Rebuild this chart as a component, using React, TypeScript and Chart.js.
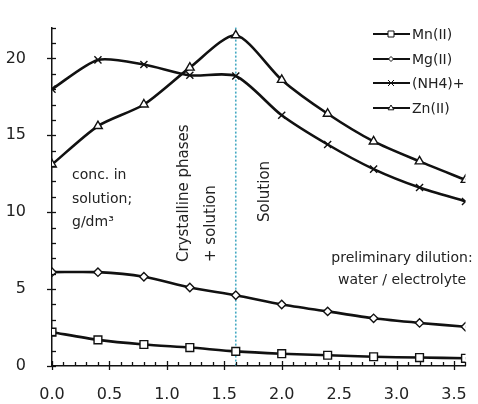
import React, { useEffect, useRef } from "react";
import { Chart, registerables } from "chart.js";

Chart.register(...registerables);

const X_VALUES = [0, 0.4, 0.8, 1.2, 1.6, 2.0, 2.4, 2.8, 3.2, 3.6];
const MN = [2.2, 1.7, 1.4, 1.2, 0.95, 0.8, 0.7, 0.6, 0.55, 0.5];
const MG = [6.1, 6.1, 5.8, 5.1, 4.6, 4.0, 3.55, 3.1, 2.8, 2.55];
const NH4 = [18.0, 19.9, 19.6, 18.9, 18.85, 16.3, 14.4, 12.8, 11.6, 10.7];
const ZN = [13.1, 15.6, 17.0, 19.4, 21.5, 18.6, 16.4, 14.6, 13.3, 12.1];

const SERIES_NAMES = ["Mn(II)", "Mg(II)", "(NH4)+", "Zn(II)"];
const X_TICKS = [0, 0.5, 1.0, 1.5, 2.0, 2.5, 3.0, 3.5];
const Y_TICKS = [0, 5, 10, 15, 20];
const X_MIN = 0, X_MAX = 3.6, X_MINOR = 0.1;
const Y_MIN = 0, Y_MAX = 22, Y_MINOR = 1;
const BOUNDARY_X = 1.6;

const FONT = "'DejaVu Sans', sans-serif";
const TEXT = "#222";

function drawMarker(ctx: CanvasRenderingContext2D, style: string, x: number, y: number, r: number) {
  ctx.beginPath();
  if (style === "rect") {
    ctx.rect(x - r, y - r, 2 * r, 2 * r);
    ctx.fill();
    ctx.stroke();
  } else if (style === "rectRot") {
    ctx.moveTo(x, y - r);
    ctx.lineTo(x + r, y);
    ctx.lineTo(x, y + r);
    ctx.lineTo(x - r, y);
    ctx.closePath();
    ctx.fill();
    ctx.stroke();
  } else if (style === "crossRot") {
    ctx.moveTo(x - r, y - r);
    ctx.lineTo(x + r, y + r);
    ctx.moveTo(x + r, y - r);
    ctx.lineTo(x - r, y + r);
    ctx.stroke();
  } else {
    ctx.moveTo(x, y - r);
    ctx.lineTo(x + r * 0.95, y + r * 0.6);
    ctx.lineTo(x - r * 0.95, y + r * 0.6);
    ctx.closePath();
    ctx.fill();
    ctx.stroke();
  }
}

const decorPlugin = {
  id: "decor",
  beforeDatasetsDraw(chart: any) {
    const { ctx, chartArea, scales } = chart;
    const x = scales.x.getPixelForValue(BOUNDARY_X);
    ctx.save();
    ctx.strokeStyle = "#45a9c2";
    ctx.lineWidth = 1.6;
    ctx.setLineDash([2, 2]);
    ctx.beginPath();
    ctx.moveTo(x, chartArea.top);
    ctx.lineTo(x, chartArea.bottom);
    ctx.stroke();
    ctx.restore();
  },
  afterDraw(chart: any) {
    const { ctx, chartArea, scales } = chart;
    const xs = scales.x, ys = scales.y;
    ctx.save();
    ctx.strokeStyle = "#111";
    ctx.lineWidth = 1.3;
    const nx = Math.round((X_MAX - X_MIN) / X_MINOR);
    for (let i = 0; i <= nx; i++) {
      const v = X_MIN + i * X_MINOR;
      const px = Math.round(xs.getPixelForValue(v)) + 0.5;
      const major = X_TICKS.some((t) => Math.abs(t - v) < 1e-6);
      ctx.beginPath();
      ctx.moveTo(px, chartArea.bottom + (major ? 4 : 0));
      ctx.lineTo(px, chartArea.bottom - (major ? 5 : 4));
      ctx.stroke();
    }
    const ny = Math.round((Y_MAX - Y_MIN) / Y_MINOR);
    for (let i = 0; i <= ny; i++) {
      const v = Y_MIN + i * Y_MINOR;
      const py = Math.round(ys.getPixelForValue(v)) + 0.5;
      const major = Y_TICKS.some((t) => Math.abs(t - v) < 1e-6);
      ctx.beginPath();
      ctx.moveTo(chartArea.left - (major ? 5 : 0), py);
      ctx.lineTo(chartArea.left + 4, py);
      ctx.stroke();
    }
    ctx.restore();

    ctx.save();
    ctx.fillStyle = TEXT;
    ctx.font = `14px ${FONT}`;
    ctx.textBaseline = "middle";
    ctx.textAlign = "left";
    ctx.fillText("conc. in", 72, 175);
    ctx.fillText("solution;", 72, 199);
    ctx.fillText("g/dm\u00B3", 72, 222);

    ctx.textAlign = "center";
    ctx.fillText("preliminary dilution:", 402, 258);
    ctx.fillText("water / electrolyte", 402, 280);

    ctx.font = `15px ${FONT}`;
    const rot = (text: string, x: number, y: number) => {
      ctx.save();
      ctx.translate(x, y);
      ctx.rotate(-Math.PI / 2);
      ctx.textAlign = "left";
      ctx.textBaseline = "middle";
      ctx.fillText(text, 0, 0);
      ctx.restore();
    };
    rot("Crystalline phases", 184, 262);
    rot("+ solution", 211, 262);
    rot("Solution", 265, 222);
    ctx.restore();

    ctx.save();
    const styles = ["rect", "rectRot", "crossRot", "triangle"];
    const rowY = [34, 59, 83, 108];
    ctx.font = `14px ${FONT}`;
    ctx.textBaseline = "middle";
    ctx.textAlign = "left";
    SERIES_NAMES.forEach((name, i) => {
      const y = rowY[i];
      ctx.strokeStyle = "#111";
      ctx.lineWidth = 2.2;
      ctx.beginPath();
      ctx.moveTo(373, y);
      ctx.lineTo(410, y);
      ctx.stroke();
      ctx.lineWidth = 1;
      ctx.fillStyle = "#fff";
      drawMarker(ctx, styles[i], 391, y, i === 1 ? 2.5 : 3);
      ctx.fillStyle = TEXT;
      ctx.fillText(name, 412, y + 1);
    });
    ctx.restore();
  },
};

export default function App() {
  const ref = useRef<HTMLCanvasElement>(null);
  useEffect(() => {
    document.body.style.margin = "0";
    const mk = (data: number[], style: string, r: number) => ({
      data: X_VALUES.map((x, i) => ({ x, y: data[i] })),
      borderColor: "#111",
      borderWidth: 2.6,
      tension: 0.25,
      pointStyle: style,
      pointRadius: r,
      pointBorderWidth: 1.4,
      pointBackgroundColor: "#fff",
      pointBorderColor: "#111",
      fill: false,
    });
    const chart = new Chart(ref.current!, {
      type: "line",
      data: {
        datasets: [
          { label: SERIES_NAMES[0], ...mk(MN, "rect", 5.5) },
          { label: SERIES_NAMES[1], ...mk(MG, "rectRot", 4.2) },
          { label: SERIES_NAMES[2], ...mk(NH4, "crossRot", 5) },
          { label: SERIES_NAMES[3], ...mk(ZN, "triangle", 5) },
        ] as any,
      },
      options: {
        animation: false,
        responsive: false,
        devicePixelRatio: 1,
        layout: { padding: { top: 12, right: 10, left: 0, bottom: 0 } },
        plugins: { legend: { display: false }, tooltip: { enabled: false } },
        scales: {
          x: {
            type: "linear",
            min: X_MIN,
            max: X_MAX,
            afterFit: (s: any) => { s.height = 38; },
            afterBuildTicks: (s: any) => { s.ticks = X_TICKS.map((v) => ({ value: v })); },
            ticks: {
              padding: 11,
              color: TEXT,
              font: { family: FONT, size: 16 },
              callback: (v: any) => Number(v).toFixed(1),
            },
            grid: { display: false },
            border: { display: true, color: "#111", width: 1.5 },
          },
          y: {
            min: Y_MIN,
            max: Y_MAX,
            afterFit: (s: any) => { s.width = 52; },
            afterBuildTicks: (s: any) => { s.ticks = Y_TICKS.map((v) => ({ value: v })); },
            ticks: {
              padding: 18,
              color: TEXT,
              font: { family: FONT, size: 16 },
              callback: (v: any) => String(v),
            },
            grid: { display: false },
            border: { display: true, color: "#111", width: 1.5 },
          },
        },
      },
      plugins: [decorPlugin],
    });
    return () => chart.destroy();
  }, []);
  return <canvas ref={ref} width={478} height={404} style={{ display: "block" }} />;
}
